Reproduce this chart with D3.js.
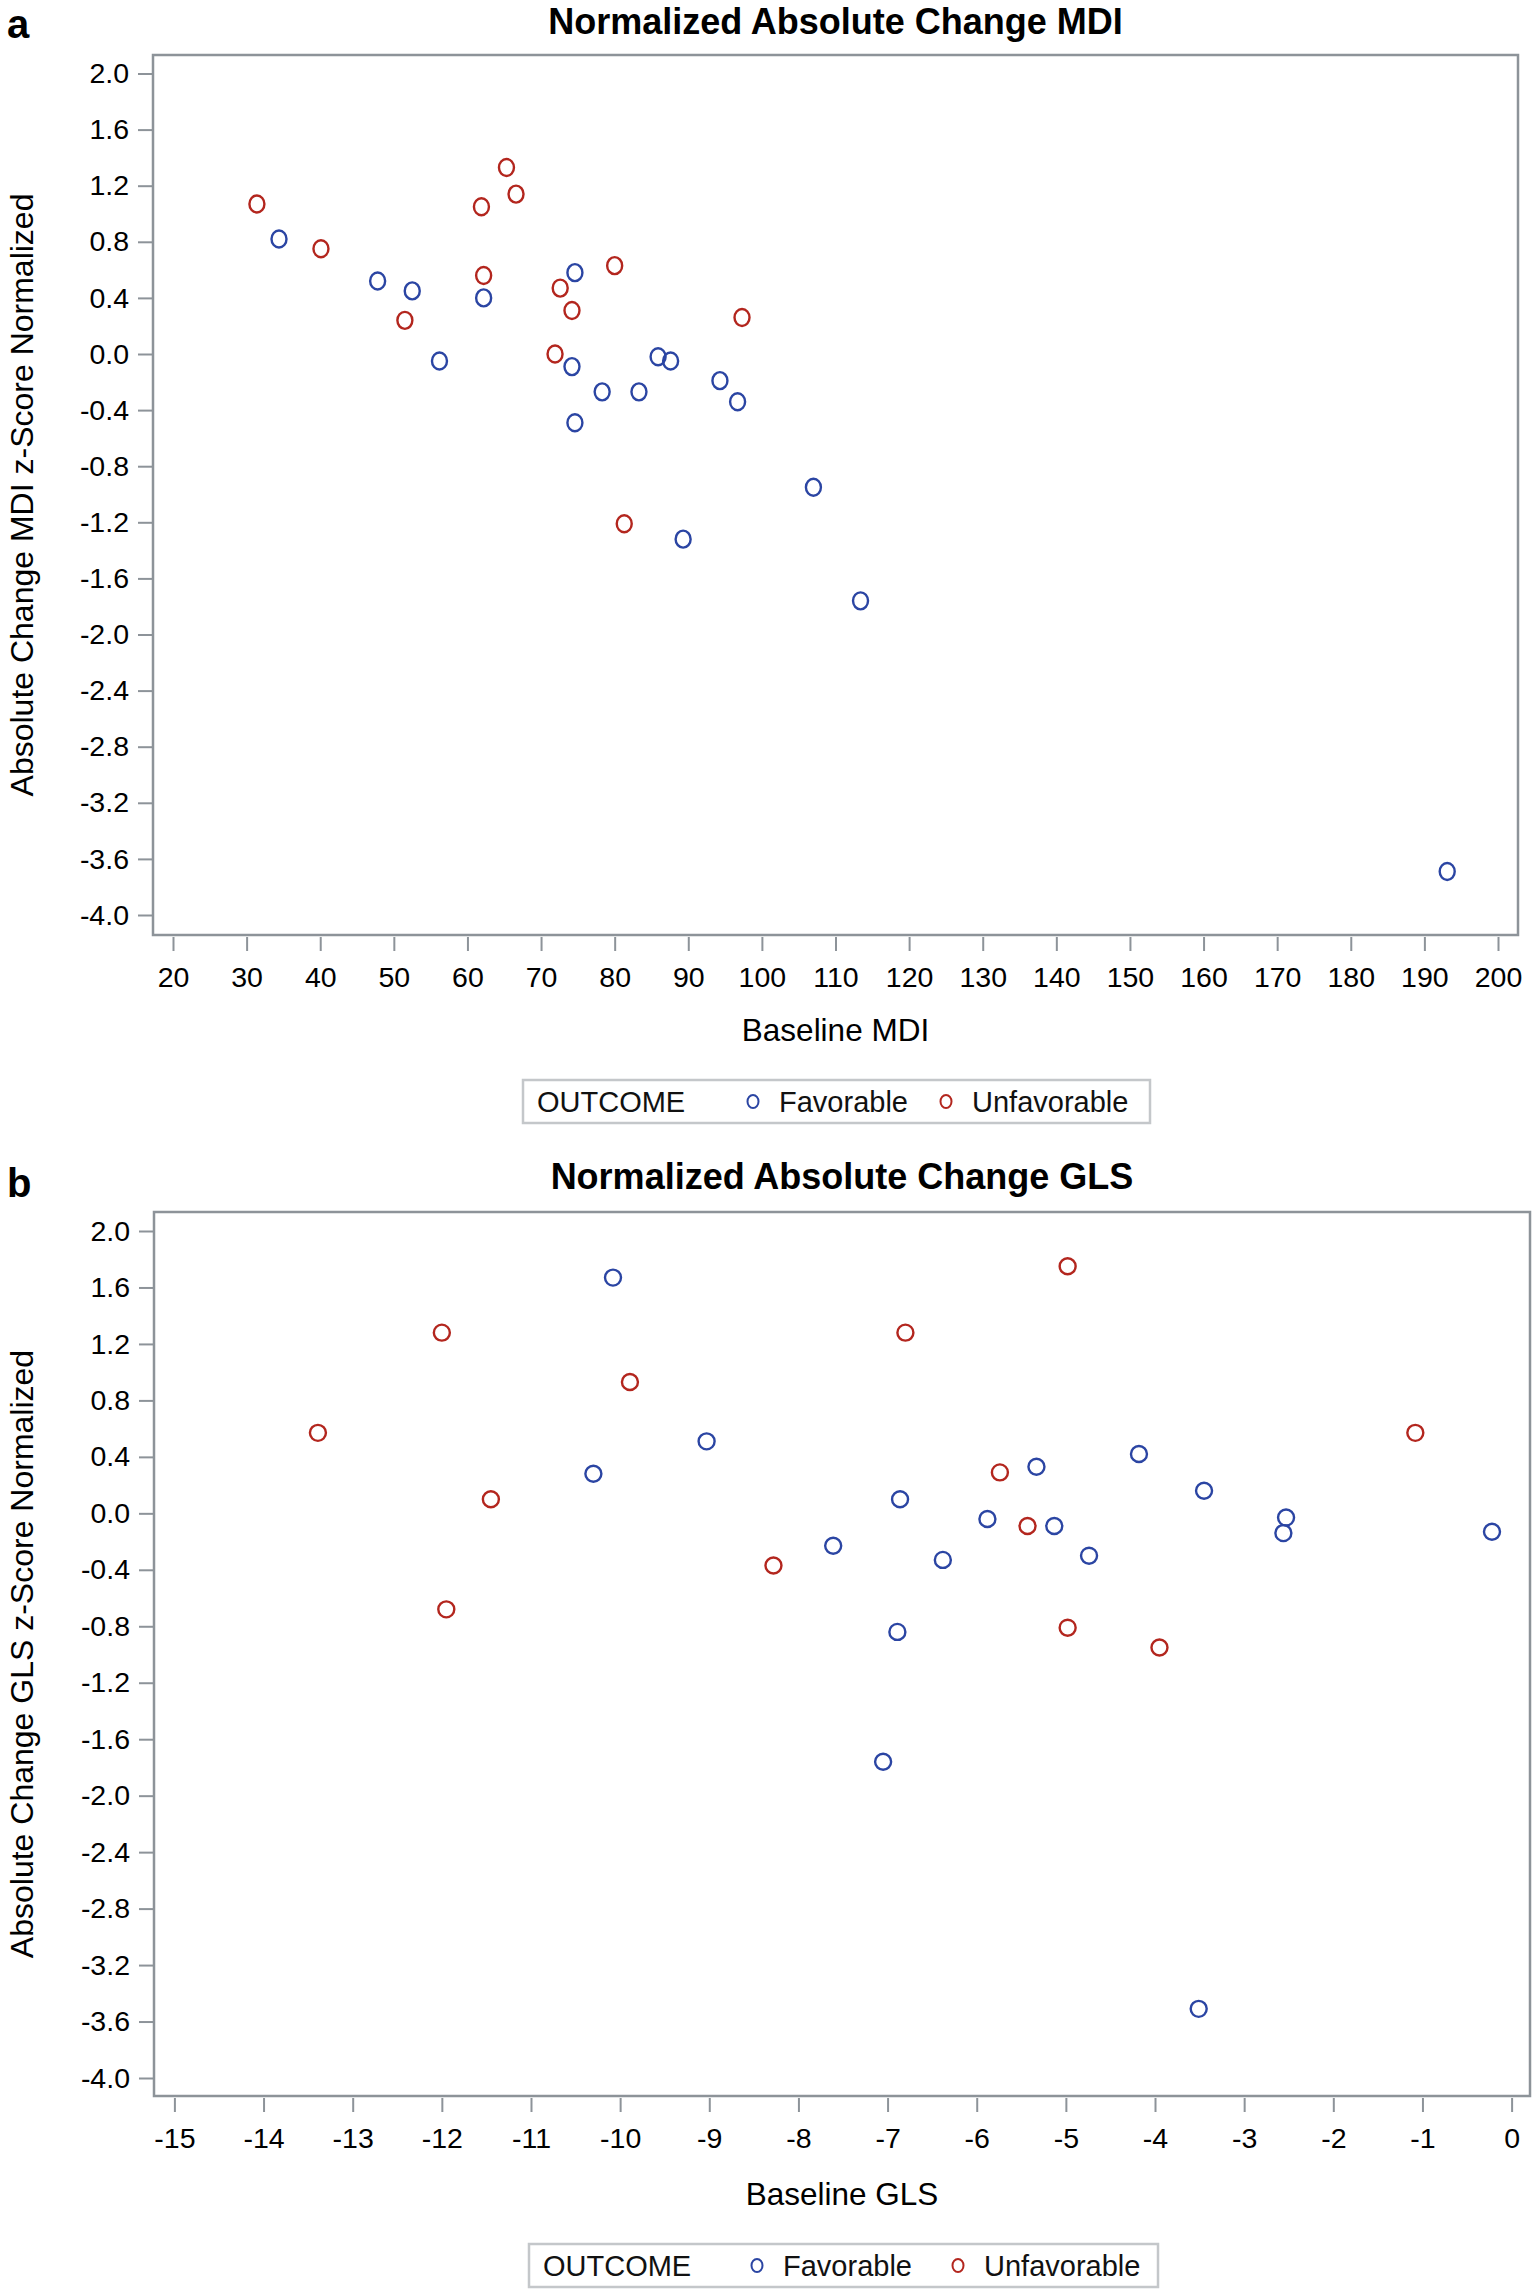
<!DOCTYPE html>
<html><head><meta charset="utf-8">
<script src="https://cdn.jsdelivr.net/npm/d3@7"></script>
<style>
html,body{margin:0;padding:0;background:#fff;}
svg{display:block;font-family:"Liberation Sans",Arial,sans-serif;}
</style></head>
<body>
<svg id="chart" width="1536" height="2291"></svg>
<script>
// ---------- DATA ----------
const outcomes = ["Favorable", "Unfavorable"];

// Panel a: Baseline MDI vs normalized absolute change MDI
const mdiFavX = [34.4, 47.8, 52.5, 62.2, 74.6, 56.2, 74.2, 85.9, 87.6, 78.3, 83.3, 94.3, 96.7, 74.6, 107.0, 89.3, 113.4, 193.1];
const mdiFavY = [0.82, 0.52, 0.45, 0.40, 0.58, -0.05, -0.09, -0.02, -0.05, -0.27, -0.27, -0.19, -0.34, -0.49, -0.95, -1.32, -1.76, -3.69];
const mdiUnfX = [31.4, 65.3, 66.6, 61.9, 40.1, 62.2, 80.0, 72.6, 74.2, 51.5, 97.3, 71.9, 81.3];
const mdiUnfY = [1.07, 1.33, 1.14, 1.05, 0.75, 0.56, 0.63, 0.47, 0.31, 0.24, 0.26, 0.00, -1.21];

// Panel b: Baseline GLS vs normalized absolute change GLS
const glsFavX = [-10.08, -9.03, -10.30, -7.61, -6.86, -5.33, -4.18, -5.88, -5.13, -6.38, -4.74, -3.45, -2.53, -2.56, -0.22, -6.89, -7.05, -3.51];
const glsFavY = [1.67, 0.51, 0.28, -0.23, 0.10, 0.33, 0.42, -0.04, -0.09, -0.33, -0.30, 0.16, -0.03, -0.14, -0.13, -0.84, -1.76, -3.51];
const glsUnfX = [-13.39, -12.0, -9.89, -11.45, -11.95, -8.28, -4.98, -6.80, -1.08, -5.74, -5.43, -4.98, -3.95];
const glsUnfY = [0.57, 1.28, 0.93, 0.10, -0.68, -0.37, 1.75, 1.28, 0.57, 0.29, -0.09, -0.81, -0.95];

// Tick values / labels
const yTicks = [2.0, 1.6, 1.2, 0.8, 0.4, 0.0, -0.4, -0.8, -1.2, -1.6, -2.0, -2.4, -2.8, -3.2, -3.6, -4.0];
const mdiTicks = [20, 30, 40, 50, 60, 70, 80, 90, 100, 110, 120, 130, 140, 150, 160, 170, 180, 190, 200];
const glsTicks = [-15, -14, -13, -12, -11, -10, -9, -8, -7, -6, -5, -4, -3, -2, -1, 0];

// ---------- STYLE ----------
const FRAME = "#8d9399";
const COLORS = { Favorable: "#2b45a3", Unfavorable: "#b3261e" };
const svg = d3.select("#chart");

function panel(cfg) {
  const g = svg.append("g");
  const x = d3.scaleLinear().domain(cfg.xDomain).range(cfg.xRange);
  const y = d3.scaleLinear().domain([-4, 2]).range(cfg.yRange);

  // panel letter
  g.append("text").attr("x", 7).attr("y", cfg.letterY)
    .attr("font-size", 40).attr("font-weight", "bold").attr("fill", "#000").text(cfg.letter);
  // title
  g.append("text").attr("x", (cfg.frame[0] + cfg.frame[2]) / 2).attr("y", cfg.titleY)
    .attr("text-anchor", "middle").attr("font-size", 36).attr("font-weight", "bold")
    .attr("fill", "#000").text(cfg.title);

  // y axis
  const ya = g.append("g").attr("transform", `translate(${cfg.frame[0]},0)`)
    .call(d3.axisLeft(y).tickValues(yTicks).tickFormat(d3.format(".1f")).tickSize(15).tickPadding(9));
  // x axis
  const xa = g.append("g").attr("transform", `translate(0,${cfg.frame[3] + 2})`)
    .call(d3.axisBottom(x).tickValues(cfg.xTicks).tickFormat(d3.format("d")).tickSize(14).tickPadding(16));
  [ya, xa].forEach(a => {
    a.select(".domain").remove();
    a.selectAll(".tick line").attr("stroke", FRAME).attr("stroke-width", 2);
    a.selectAll(".tick text").attr("font-size", 28.5).attr("fill", "#000")
      .attr("font-family", "'Liberation Sans', Arial, sans-serif");
  });
  ya.selectAll(".tick text").text(d => d3.format(".1f")(d).replace("−", "-"));
  xa.selectAll(".tick text").text(d => String(d).replace("−", "-"));

  // frame
  g.append("rect").attr("x", cfg.frame[0]).attr("y", cfg.frame[1])
    .attr("width", cfg.frame[2] - cfg.frame[0]).attr("height", cfg.frame[3] - cfg.frame[1])
    .attr("fill", "none").attr("stroke", FRAME).attr("stroke-width", 2.5);

  // axis titles
  g.append("text").attr("x", (cfg.frame[0] + cfg.frame[2]) / 2).attr("y", cfg.xTitleY)
    .attr("text-anchor", "middle").attr("font-size", 31.5).attr("fill", "#000").text(cfg.xTitle);
  g.append("text").attr("transform", `translate(33,${(cfg.frame[1] + cfg.frame[3]) / 2}) rotate(-90)`)
    .attr("text-anchor", "middle").attr("font-size", 32).attr("fill", "#000").text(cfg.yTitle);

  // points
  const series = [
    { name: "Favorable", xs: cfg.favX, ys: cfg.favY },
    { name: "Unfavorable", xs: cfg.unfX, ys: cfg.unfY }
  ];
  series.forEach(s => {
    g.append("g").selectAll("ellipse").data(s.xs.map((v, i) => [v, s.ys[i]])).join("ellipse")
      .attr("cx", d => x(d[0])).attr("cy", d => y(d[1]))
      .attr("rx", cfg.rx).attr("ry", cfg.ry)
      .attr("fill", "none").attr("stroke", COLORS[s.name]).attr("stroke-width", 2.4);
  });

  // legend
  const L = cfg.legend;
  g.append("rect").attr("x", L.x0).attr("y", L.y0).attr("width", L.x1 - L.x0).attr("height", L.y1 - L.y0)
    .attr("fill", "#fff").attr("stroke", "#c4c7ca").attr("stroke-width", 2.5);
  const ly = (L.y0 + L.y1) / 2;
  g.append("text").attr("x", L.x0 + 14).attr("y", ly).attr("dy", "0.35em")
    .attr("font-size", 29).attr("fill", "#111").text("OUTCOME");
  outcomes.forEach((o, i) => {
    g.append("ellipse").attr("cx", L.mk[i]).attr("cy", ly).attr("rx", 5.5).attr("ry", 6.5)
      .attr("fill", "none").attr("stroke", COLORS[o]).attr("stroke-width", 2);
    g.append("text").attr("x", L.mk[i] + 26).attr("y", ly).attr("dy", "0.35em")
      .attr("font-size", 29).attr("fill", "#111").text(o);
  });
}

panel({
  letter: "a", letterY: 38, title: "Normalized Absolute Change MDI", titleY: 34,
  frame: [153, 55, 1518, 935],
  xDomain: [20, 200], xRange: [173, 1498], yRange: [915, 73.5],
  xTicks: mdiTicks, xTitle: "Baseline MDI", xTitleY: 1041,
  yTitle: "Absolute Change MDI z-Score Normalized",
  favX: mdiFavX, favY: mdiFavY, unfX: mdiUnfX, unfY: mdiUnfY, rx: 7.5, ry: 8.5,
  legend: { x0: 523, y0: 1080, x1: 1150, y1: 1123, mk: [753, 946] }
});

panel({
  letter: "b", letterY: 1197, title: "Normalized Absolute Change GLS", titleY: 1189,
  frame: [154, 1212, 1530, 2096],
  xDomain: [-15, 0], xRange: [174.4, 1511.6], yRange: [2078, 1231],
  xTicks: glsTicks, xTitle: "Baseline GLS", xTitleY: 2205,
  yTitle: "Absolute Change GLS z-Score Normalized",
  favX: glsFavX, favY: glsFavY, unfX: glsUnfX, unfY: glsUnfY, rx: 8, ry: 8,
  legend: { x0: 529, y0: 2244, x1: 1158, y1: 2287, mk: [757, 958] }
});
</script>
</body></html>
